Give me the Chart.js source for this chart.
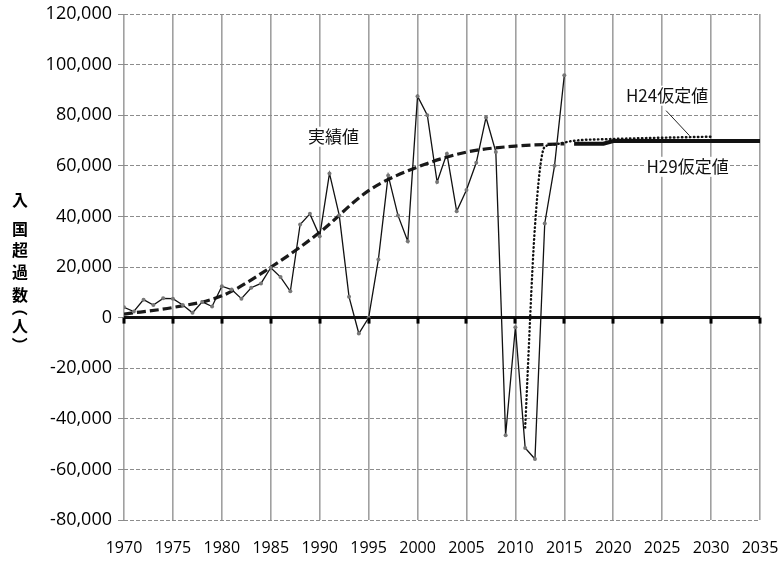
<!DOCTYPE html>
<html lang="ja">
<head>
<meta charset="utf-8">
<script src="https://cdn.jsdelivr.net/npm/chart.js@4.4.0/dist/chart.umd.min.js"></script>
<style>
  html, body { margin: 0; padding: 0; background: #fff; }
  #wrap { width: 778px; height: 561px; }
</style>
</head>
<body>
<div id="wrap"><canvas id="chart" width="778" height="561"></canvas></div>
<script>
// 実績値
const actualYears = [1970, 1971, 1972, 1973, 1974, 1975, 1976, 1977, 1978, 1979,
                     1980, 1981, 1982, 1983, 1984, 1985, 1986, 1987, 1988, 1989,
                     1990, 1991, 1992, 1993, 1994, 1995, 1996, 1997, 1998, 1999,
                     2000, 2001, 2002, 2003, 2004, 2005, 2006, 2007, 2008, 2009,
                     2010, 2011, 2012, 2013, 2014, 2015];
const actualValues = [4100, 2400, 7100, 5000, 7600, 7500, 5000, 1900, 6200, 4400,
                      12400, 11100, 7500, 11800, 13500, 19700, 16000, 10400, 36800, 41000,
                      32200, 57000, 40400, 8200, -6300, -100, 23000, 56200, 40400, 30200,
                      87500, 80000, 53600, 64800, 42000, 50400, 61200, 79100, 65500, -46500,
                      -3800, -51500, -55900, 37200, 60000, 95800];

// 傾向線（破線）
const trendYears = [1970, 1975, 1980, 1985, 1990, 1995, 2000, 2005, 2010, 2015];
const trendValues = [1400, 4000, 8600, 19900, 33700, 50200, 59500, 65400, 67800, 68700];

// H29仮定値
const h29Years = [2016, 2019, 2020, 2035];
const h29Values = [68700, 68700, 69800, 69800];

// H24仮定値
const h24Years = [2011, 2012, 2013, 2014, 2015, 2016, 2020, 2025, 2030];
const h24Values = [-43500, 36000, 67500, 68500, 69200, 69900, 70600, 71100, 71500];

// 軸
const xMin = 1970, xMax = 2035, xStep = 5;
const yMin = -80000, yMax = 120000, yStep = 20000;

const yTitleChars = ['入', '国', '超', '過', '数', '（', '人', '）'];

function toPoints(xs, ys) {
    return xs.map((x, i) => ({ x: x, y: ys[i] }));
}

const jpFont = '"Noto Sans CJK JP", "Noto Sans", sans-serif';
const numFont = '"Open Sans", "Liberation Sans", sans-serif';

// 文字の墨の中心を (cx, cy) に合わせて描く
function drawCentered(ctx, c, cx, cy, angle) {
    ctx.save();
    ctx.translate(cx, cy);
    if (angle) ctx.rotate(angle);
    ctx.textAlign = 'left';
    ctx.textBaseline = 'alphabetic';
    const m = ctx.measureText(c);
    const dx = (m.actualBoundingBoxRight - m.actualBoundingBoxLeft) / 2;
    const dy = (m.actualBoundingBoxDescent - m.actualBoundingBoxAscent) / 2;
    ctx.fillText(c, -dx, -dy);
    ctx.restore();
}

// 注記・ゼロ線の目盛り
const extrasPlugin = {
    id: 'extras',
    afterDatasetsDraw(chart) {
        const ctx = chart.ctx;
        const xs = chart.scales.x;
        const ys = chart.scales.y;
        const y0 = ys.getPixelForValue(0);

        ctx.save();
        // ゼロ線上の目盛り
        ctx.strokeStyle = '#000';
        ctx.lineWidth = 3;
        for (let yr = xMin; yr <= xMax; yr += xStep) {
            const px = Math.round(xs.getPixelForValue(yr));
            ctx.beginPath();
            ctx.moveTo(px, y0);
            ctx.lineTo(px, y0 + 6);
            ctx.stroke();
        }

        // ラベル
        ctx.font = '17px ' + jpFont;
        ctx.textAlign = 'center';
        ctx.textBaseline = 'middle';
        const labels = [
            { text: '実績値', x: 1991.4, y: 71500 },
            { text: 'H24仮定値', x: 2025.5, y: 87700 },
            { text: 'H29仮定値', x: 2027.6, y: 59600 }
        ];
        labels.forEach(l => {
            const px = xs.getPixelForValue(l.x);
            const py = ys.getPixelForValue(l.y);
            const w = ctx.measureText(l.text).width;
            ctx.fillStyle = '#fff';
            ctx.fillRect(px - w / 2 - 1, py - 10, w + 2, 20);
            ctx.fillStyle = '#111';
            ctx.fillText(l.text, px, py);
        });

        // H24 引き出し線
        ctx.strokeStyle = '#222';
        ctx.lineWidth = 1;
        ctx.beginPath();
        ctx.moveTo(xs.getPixelForValue(2025.4), ys.getPixelForValue(81800));
        ctx.lineTo(xs.getPixelForValue(2027.8), ys.getPixelForValue(71900));
        ctx.stroke();

        // 縦書きの軸タイトル（括弧は90度回転）
        ctx.fillStyle = '#000';
        ctx.font = 'bold 16px ' + jpFont;
        const centers = [200, 229, 250, 272, 295, 313, 326, 340];
        yTitleChars.forEach((c, i) => {
            const rot = (c === '（' || c === '）') ? Math.PI / 2 : 0;
            drawCentered(ctx, c, 20, centers[i], rot);
        });
        ctx.restore();
    }
};

const ctx = document.getElementById('chart').getContext('2d');
new Chart(ctx, {
    type: 'line',
    data: {
        datasets: [
            {
                label: '実績値',
                data: toPoints(actualYears, actualValues),
                borderColor: '#111',
                borderWidth: 1.3,
                pointRadius: 2,
                pointBackgroundColor: '#777',
                pointBorderColor: '#777',
                pointBorderWidth: 0,
                tension: 0,
                order: 1
            },
            {
                label: '傾向',
                data: toPoints(trendYears, trendValues),
                borderColor: '#1a1a1a',
                borderWidth: 3.2,
                borderDash: [9, 4],
                pointRadius: 0,
                cubicInterpolationMode: 'monotone',
                order: 2
            },
            {
                label: 'H29仮定値',
                data: toPoints(h29Years, h29Values),
                borderColor: '#111',
                borderWidth: 4,
                pointRadius: 0,
                tension: 0,
                order: 3
            },
            {
                label: 'H24仮定値',
                data: toPoints(h24Years, h24Values),
                borderColor: '#111',
                borderWidth: 2.4,
                borderDash: [0.5, 3.5],
                borderCapStyle: 'round',
                pointRadius: 0,
                cubicInterpolationMode: 'monotone',
                order: 0
            }
        ]
    },
    options: {
        responsive: false,
        animation: false,
        devicePixelRatio: 1,
        layout: { padding: 0 },
        plugins: {
            legend: { display: false },
            tooltip: { enabled: false }
        },
        scales: {
            x: {
                type: 'linear',
                min: xMin,
                max: xMax,
                afterFit: function(scale) {
                    scale.height = 41;
                    scale.paddingLeft = 0;
                    scale.paddingRight = 18;
                },
                ticks: {
                    stepSize: xStep,
                    padding: 19,
                    color: '#000',
                    font: { family: numFont, size: 16 },
                    maxRotation: 0,
                    autoSkip: false,
                    callback: function(value) { return String(value); }
                },
                grid: {
                    color: '#a0a0a0',
                    lineWidth: 1.6,
                    drawTicks: false
                },
                border: { display: false }
            },
            y: {
                min: yMin,
                max: yMax,
                afterFit: function(scale) {
                    scale.width = 124;
                    scale.paddingTop = 14;
                    scale.paddingBottom = 0;
                },
                ticks: {
                    stepSize: yStep,
                    padding: 6,
                    color: '#000',
                    font: { family: numFont, size: 18 },
                    callback: function(value) { return value.toLocaleString('en-US'); }
                },
                grid: {
                    color: function(c) { return c.tick && c.tick.value === 0 ? '#111' : '#8c8c8c'; },
                    lineWidth: function(c) { return c.tick && c.tick.value === 0 ? 3 : 1; },
                    tickColor: '#8c8c8c',
                    tickLength: 6,
                    tickWidth: 1
                },
                border: {
                    display: false,
                    dash: function(c) { return c.tick && c.tick.value === 0 ? [] : [4, 2]; }
                }
            }
        }
    },
    plugins: [extrasPlugin]
});
</script>
</body>
</html>
